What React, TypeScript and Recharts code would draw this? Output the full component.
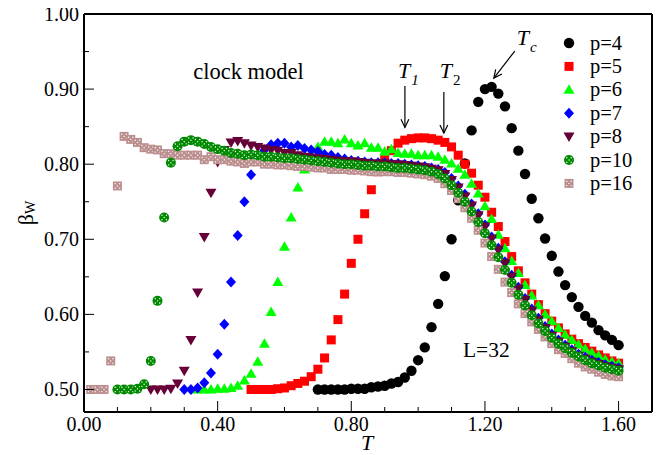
import React from 'react';
import { ScatterChart, Scatter, XAxis, YAxis, ReferenceLine, ReferenceDot, Legend } from 'recharts';

// temperature grid shared by every run; each beta list ends at T = 1.60
const temps = [
  0.02, 0.04, 0.06, 0.08, 0.10, 0.12, 0.14, 0.16, 0.18, 0.20,
  0.22, 0.24, 0.26, 0.28, 0.30, 0.32, 0.34, 0.36, 0.38, 0.40,
  0.42, 0.44, 0.46, 0.48, 0.50, 0.52, 0.54, 0.56, 0.58, 0.60,
  0.62, 0.64, 0.66, 0.68, 0.70, 0.72, 0.74, 0.76, 0.78, 0.80,
  0.82, 0.84, 0.86, 0.88, 0.90, 0.92, 0.94, 0.96, 0.98, 1.00,
  1.02, 1.04, 1.06, 1.08, 1.10, 1.12, 1.14, 1.16, 1.18, 1.20,
  1.22, 1.24, 1.26, 1.28, 1.30, 1.32, 1.34, 1.36, 1.38, 1.40,
  1.42, 1.44, 1.46, 1.48, 1.50, 1.52, 1.54, 1.56, 1.58, 1.60,
];

// p=4, from T = 0.70
const beta4 = [
  0.500, 0.500, 0.500, 0.500, 0.500, 0.501, 0.501, 0.501, 0.503, 0.504,
  0.505, 0.508, 0.510, 0.516, 0.525, 0.539, 0.556, 0.583, 0.614, 0.651,
  0.700, 0.752, 0.801, 0.845, 0.883, 0.900, 0.903, 0.894, 0.877, 0.848,
  0.818, 0.787, 0.754, 0.728, 0.701, 0.678, 0.657, 0.639, 0.623, 0.610,
  0.598, 0.589, 0.579, 0.572, 0.566, 0.559,
];

// p=5, from T = 0.50
const beta5 = [
  0.500, 0.500, 0.500, 0.500, 0.501, 0.502, 0.505, 0.508, 0.511, 0.517,
  0.527, 0.542, 0.566, 0.593, 0.627, 0.668, 0.700, 0.734, 0.766, 0.790,
  0.806, 0.818, 0.828, 0.832, 0.834, 0.835, 0.835, 0.834, 0.832, 0.829,
  0.823, 0.812, 0.800, 0.788, 0.772, 0.756, 0.736, 0.717, 0.697, 0.677,
  0.658, 0.642, 0.627, 0.613, 0.601, 0.591, 0.582, 0.574, 0.567, 0.561,
  0.556, 0.551, 0.546, 0.542, 0.538, 0.535,
];

// p=6, from T = 0.34
const beta6 = [
  0.500, 0.500, 0.500, 0.501, 0.501, 0.502, 0.505, 0.512, 0.521, 0.537,
  0.561, 0.603, 0.643, 0.690, 0.729, 0.769, 0.793, 0.812, 0.823, 0.830,
  0.830, 0.828, 0.833, 0.828, 0.825, 0.828, 0.822, 0.822, 0.817, 0.820,
  0.815, 0.814, 0.814, 0.812, 0.812, 0.812, 0.810, 0.806, 0.801, 0.794,
  0.786, 0.774, 0.761, 0.744, 0.727, 0.706, 0.688, 0.671, 0.655, 0.639,
  0.625, 0.612, 0.600, 0.591, 0.582, 0.573, 0.566, 0.560, 0.554, 0.549,
  0.545, 0.540, 0.537, 0.535,
];

// p=7, from T = 0.30
const beta7 = [
  0.500, 0.500, 0.502, 0.509, 0.522, 0.547, 0.587, 0.643, 0.705, 0.750,
  0.786, 0.808, 0.819, 0.826, 0.828, 0.828, 0.823, 0.825, 0.821, 0.819,
  0.817, 0.813, 0.812, 0.809, 0.807, 0.805, 0.804, 0.803, 0.802, 0.802,
  0.802, 0.801, 0.801, 0.800, 0.799, 0.798, 0.797, 0.795, 0.793, 0.789,
  0.781, 0.771, 0.760, 0.747, 0.734, 0.719, 0.703, 0.688, 0.670, 0.652,
  0.636, 0.621, 0.607, 0.595, 0.584, 0.574, 0.566, 0.559, 0.553, 0.547,
  0.543, 0.539, 0.536, 0.533, 0.531, 0.529,
];

// p=8, from T = 0.20
const beta8 = [
  0.500, 0.500, 0.500, 0.501, 0.508, 0.525, 0.566, 0.629, 0.703, 0.762,
  0.803, 0.819, 0.829, 0.831, 0.828, 0.825, 0.823, 0.821, 0.819, 0.818,
  0.815, 0.815, 0.812, 0.810, 0.809, 0.808, 0.807, 0.806, 0.805, 0.804,
  0.804, 0.803, 0.802, 0.801, 0.801, 0.801, 0.800, 0.800, 0.799, 0.798,
  0.797, 0.796, 0.794, 0.792, 0.787, 0.779, 0.769, 0.757, 0.745, 0.732,
  0.717, 0.701, 0.686, 0.668, 0.650, 0.634, 0.619, 0.605, 0.593, 0.582,
  0.572, 0.564, 0.557, 0.551, 0.545, 0.541, 0.537, 0.534, 0.531, 0.529,
  0.527,
];

// p=10, from T = 0.10
const beta10 = [
  0.500, 0.500, 0.500, 0.501, 0.507, 0.538, 0.618, 0.729, 0.802, 0.824,
  0.830, 0.832, 0.830, 0.827, 0.823, 0.820, 0.818, 0.815, 0.814, 0.812,
  0.813, 0.812, 0.810, 0.810, 0.809, 0.808, 0.808, 0.807, 0.806, 0.805,
  0.804, 0.803, 0.802, 0.801, 0.800, 0.800, 0.799, 0.798, 0.798, 0.797,
  0.797, 0.796, 0.795, 0.795, 0.794, 0.793, 0.792, 0.790, 0.787, 0.781,
  0.772, 0.762, 0.750, 0.737, 0.723, 0.708, 0.692, 0.676, 0.659, 0.642,
  0.626, 0.612, 0.599, 0.588, 0.578, 0.569, 0.561, 0.555, 0.549, 0.544,
  0.539, 0.535, 0.532, 0.529, 0.527, 0.525,
];

// p=16, from T = 0.02
const beta16 = [
  0.500, 0.500, 0.500, 0.538, 0.771, 0.837, 0.833, 0.829, 0.822, 0.820,
  0.819, 0.814, 0.814, 0.812, 0.812, 0.812, 0.812, 0.806, 0.810, 0.806,
  0.806, 0.804, 0.803, 0.801, 0.803, 0.803, 0.800, 0.800, 0.799, 0.799,
  0.798, 0.797, 0.797, 0.796, 0.795, 0.795, 0.793, 0.793, 0.793, 0.792,
  0.792, 0.791, 0.790, 0.790, 0.790, 0.790, 0.789, 0.789, 0.788, 0.787,
  0.786, 0.784, 0.781, 0.774, 0.765, 0.754, 0.742, 0.728, 0.712, 0.695,
  0.677, 0.660, 0.643, 0.629, 0.614, 0.601, 0.590, 0.580, 0.570, 0.561,
  0.553, 0.548, 0.541, 0.535, 0.530, 0.527, 0.523, 0.520, 0.518, 0.517,
];

const xTicks = [0, 0.1, 0.2, 0.3, 0.4, 0.5, 0.6, 0.7, 0.8, 0.9, 1.0, 1.1, 1.2, 1.3, 1.4, 1.5, 1.6];
const yTicks = [0.5, 0.55, 0.6, 0.65, 0.7, 0.75, 0.8, 0.85, 0.9, 0.95, 1.0];

const SERIF: React.CSSProperties = {
  fontFamily: "'Liberation Serif', 'Times New Roman', Times, serif",
};

type Kind = 'circle' | 'square' | 'triUp' | 'diamond' | 'triDown' | 'dotCircle' | 'dotSquare';

const toPoints = (betas: number[]) => {
  const first = temps.length - betas.length;
  return betas.map((b, i) => ({ T: temps[first + i], beta: b }));
};

const SERIES: { name: string; kind: Kind; color: string; data: { T: number; beta: number }[] }[] = [
  { name: 'p=4', kind: 'circle', color: '#000000', data: toPoints(beta4) },
  { name: 'p=5', kind: 'square', color: '#ff0000', data: toPoints(beta5) },
  { name: 'p=6', kind: 'triUp', color: '#00ff00', data: toPoints(beta6) },
  { name: 'p=7', kind: 'diamond', color: '#0000ff', data: toPoints(beta7) },
  { name: 'p=8', kind: 'triDown', color: '#670038', data: toPoints(beta8) },
  { name: 'p=10', kind: 'dotCircle', color: '#008a00', data: toPoints(beta10) },
  { name: 'p=16', kind: 'dotSquare', color: '#bc8f8f', data: toPoints(beta16) },
];

// p=16 goes underneath p=10
const DRAW_ORDER = [0, 1, 2, 3, 4, 6, 5];

const DOTS = [[-2.2, -2.2], [2.2, -2.2], [0, 0], [-2.2, 2.2], [2.2, 2.2]];

const Marker = ({ cx, cy, kind, color }: { cx: number; cy: number; kind: Kind; color: string }) => {
  if (cx == null || cy == null) return null;
  switch (kind) {
    case 'circle':
      return <circle cx={cx} cy={cy} r={5.2} fill={color} />;
    case 'square':
      return <rect x={cx - 4.5} y={cy - 4.5} width={9} height={9} fill={color} />;
    case 'triUp':
      return <polygon points={`${cx},${cy - 5.5} ${cx - 5.5},${cy + 4} ${cx + 5.5},${cy + 4}`} fill={color} />;
    case 'triDown':
      return <polygon points={`${cx - 5.5},${cy - 4} ${cx + 5.5},${cy - 4} ${cx},${cy + 5.5}`} fill={color} />;
    case 'diamond':
      return <polygon points={`${cx},${cy - 5.5} ${cx + 5},${cy} ${cx},${cy + 5.5} ${cx - 5},${cy}`} fill={color} />;
    case 'dotCircle':
    case 'dotSquare':
      return (
        <g>
          {kind === 'dotCircle'
            ? <circle cx={cx} cy={cy} r={5} fill={color} />
            : <rect x={cx - 4.5} y={cy - 4.5} width={9} height={9} fill={color} />}
          {DOTS.map(([dx, dy], i) => (
            <circle key={i} cx={cx + dx} cy={cy + dy} r={0.7} fill="#ffffff" />
          ))}
        </g>
      );
  }
  return null;
};

const XTick = (props: any) => {
  const { x, y, payload } = props;
  const v = payload.value as number;
  const major = Math.round(v * 10) % 4 === 0;
  return (
    <g>
      <line x1={x} x2={x} y1={y} y2={y - (major ? 11 : 5)} stroke="#000" strokeWidth={1} />
      {major && (
        <text x={x} y={y + 19} textAnchor="middle" fontSize={20} style={SERIF} fill="#000">
          {v.toFixed(2)}
        </text>
      )}
    </g>
  );
};

const YTick = (props: any) => {
  const { x, y, payload } = props;
  const v = payload.value as number;
  const major = Math.round(v * 100) % 10 === 0;
  return (
    <g>
      <line x1={x} x2={x + (major ? 10 : 5)} y1={y} y2={y} stroke="#000" strokeWidth={1} />
      {major && (
        <text x={x - 5} y={y + 7} textAnchor="end" fontSize={20} style={SERIF} fill="#000">
          {v.toFixed(2)}
        </text>
      )}
    </g>
  );
};

// straight arrow with an open V head at (x2, y2)
const Arrow = (props: any) => {
  const { x1, y1, x2, y2 } = props;
  const a = Math.atan2(y2 - y1, x2 - x1);
  const len = 9;
  const spread = 0.45;
  const h1x = x2 - len * Math.cos(a - spread);
  const h1y = y2 - len * Math.sin(a - spread);
  const h2x = x2 - len * Math.cos(a + spread);
  const h2y = y2 - len * Math.sin(a + spread);
  return (
    <g stroke="#000" strokeWidth={1.2} fill="none">
      <line x1={x1} y1={y1} x2={x2} y2={y2} />
      <polyline points={`${h1x},${h1y} ${x2},${y2} ${h2x},${h2y}`} />
    </g>
  );
};

const tempLabel = (sub: string, subItalic: boolean) => (props: any) => (
  <text x={props.cx} y={props.cy} style={SERIF} fill="#000">
    <tspan fontSize={22} fontStyle="italic">T</tspan>
    <tspan fontSize={15} dx={1} dy={7} fontStyle={subItalic ? 'italic' : 'normal'}>{sub}</tspan>
  </text>
);

const plainLabel = (txt: string, size: number) => (props: any) => (
  <text x={props.cx} y={props.cy} style={SERIF} fontSize={size} fill="#000">{txt}</text>
);

const LegendBox = () => (
  <svg width={96} height={176} style={{ display: 'block', overflow: 'visible' }}>
    {SERIES.map((s, i) => (
      <g key={s.name} transform={`translate(0, ${i * 23.4})`}>
        <Marker cx={9} cy={13} kind={s.kind} color={s.color} />
        <text x={30} y={19.5} fontSize={20.5} style={SERIF} fill="#000">{s.name}</text>
      </g>
    ))}
  </svg>
);

const XTitle = (props: any) => {
  const vb = props.viewBox;
  return (
    <text x={vb.x + vb.width / 2 - 1} y={vb.y + 38} textAnchor="middle" fontSize={22} fontStyle="italic" style={SERIF} fill="#000">
      T
    </text>
  );
};

const YTitle = (props: any) => {
  const vb = props.viewBox;
  const cx = 25;
  const cy = vb.y + vb.height / 2;
  return (
    <text x={cx} y={cy} transform={`rotate(-90, ${cx}, ${cy})`} textAnchor="middle" dominantBaseline="central" style={SERIF} fill="#000">
      <tspan fontSize={22}>β</tspan>
      <tspan fontSize={14} dy={5}>W</tspan>
    </text>
  );
};

export default function App() {
  // pull the chart over the body margin so it spans the whole window
  return (
    <div style={{ width: 666, height: 455, margin: '-8px 0 0 -8px', ...SERIF }}>
      <ScatterChart width={666} height={455} margin={{ top: 14, right: 14, bottom: 0, left: 8 }}>
        <XAxis
          type="number"
          dataKey="T"
          domain={[0, 1.7]}
          ticks={xTicks}
          interval={0}
          allowDataOverflow
          height={43}
          tickSize={0}
          tickMargin={0}
          tickLine={false}
          tick={<XTick />}
          axisLine={{ stroke: '#000', strokeWidth: 2 }}
          label={{ content: <XTitle /> }}
        />
        <YAxis
          type="number"
          dataKey="beta"
          domain={[0.47, 1.0]}
          ticks={yTicks}
          interval={0}
          allowDataOverflow
          width={76}
          tickSize={0}
          tickMargin={0}
          tickLine={false}
          tick={<YTick />}
          axisLine={{ stroke: '#000', strokeWidth: 2 }}
          label={{ content: <YTitle /> }}
        />
        <ReferenceLine y={1.0} stroke="#000" strokeWidth={2} />
        <ReferenceLine x={1.7} stroke="#000" strokeWidth={2} />

        {DRAW_ORDER.map((idx) => {
          const s = SERIES[idx];
          return (
            <Scatter
              key={s.name}
              name={s.name}
              data={s.data}
              isAnimationActive={false}
              shape={(p: any) => <Marker cx={p.cx} cy={p.cy} kind={s.kind} color={s.color} />}
            />
          );
        })}

        <ReferenceLine segment={[{ x: 0.9605, y: 0.904 }, { x: 0.9605, y: 0.849 }]} shape={<Arrow />} />
        <ReferenceLine segment={[{ x: 1.077, y: 0.896 }, { x: 1.077, y: 0.8415 }]} shape={<Arrow />} />
        <ReferenceLine segment={[{ x: 1.2894, y: 0.9507 }, { x: 1.2266, y: 0.9147 }]} shape={<Arrow />} />

        <ReferenceDot x={0.94} y={0.915} r={0} shape={tempLabel('1', true)} />
        <ReferenceDot x={1.065} y={0.915} r={0} shape={tempLabel('2', false)} />
        <ReferenceDot x={1.295} y={0.9587} r={0} shape={tempLabel('c', true)} />
        <ReferenceDot x={0.327} y={0.913} r={0} shape={plainLabel('clock model', 22.5)} />
        <ReferenceDot x={1.134} y={0.543} r={0} shape={plainLabel('L=32', 21.5)} />

        <Legend
          layout="vertical"
          align="center"
          verticalAlign="middle"
          content={() => <LegendBox />}
          wrapperStyle={{ left: 560, top: 30, width: 96 }}
        />
      </ScatterChart>
    </div>
  );
}
